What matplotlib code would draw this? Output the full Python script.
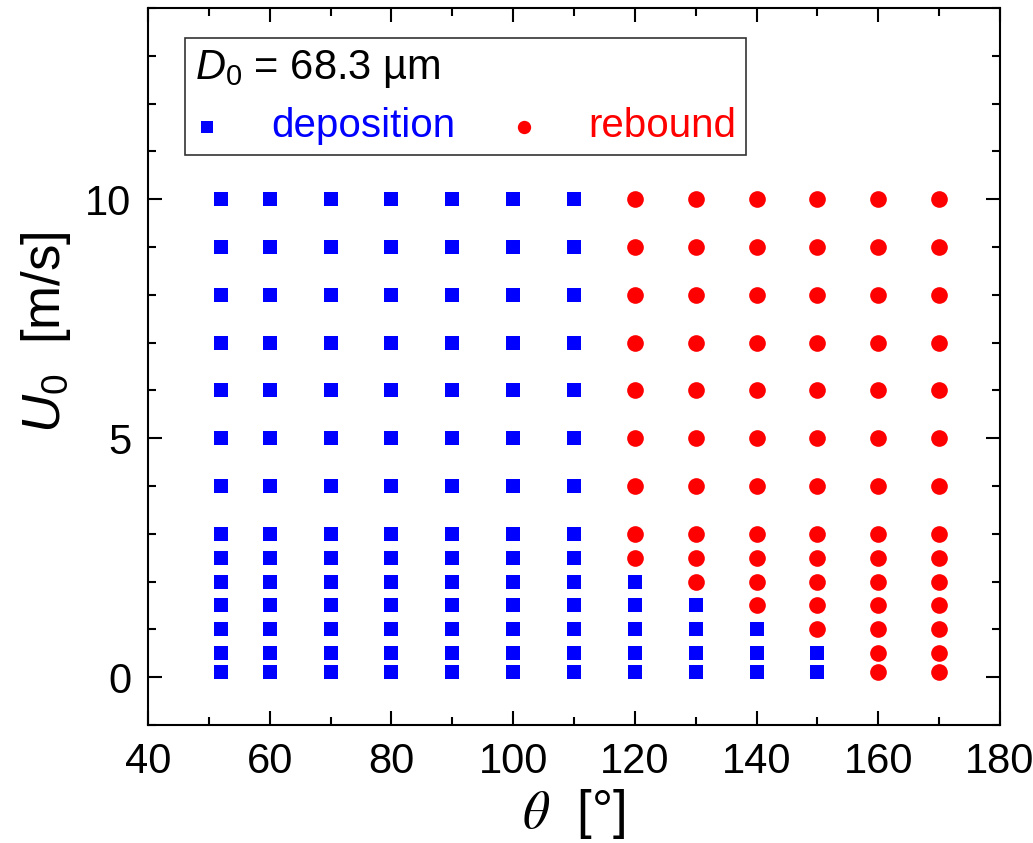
import matplotlib
matplotlib.use('Agg')
import matplotlib.pyplot as plt
from matplotlib.ticker import MultipleLocator
import numpy as np

plt.rcParams['font.family'] = ['Liberation Sans', 'DejaVu Sans']
plt.rcParams['mathtext.fontset'] = 'custom'
plt.rcParams['mathtext.rm'] = 'Liberation Sans'
plt.rcParams['mathtext.it'] = 'Liberation Sans:italic'

# 接触角和撞击速度网格
theta_cols = [52, 60, 70, 80, 90, 100, 110, 120, 130, 140, 150, 160, 170]
u0_rows = [0.1, 0.5, 1.0, 1.5, 2.0, 2.5, 3.0, 4.0, 5.0, 6.0, 7.0, 8.0, 9.0, 10.0]
# 每一列中发生反弹的最小速度 (None 表示全部沉积)
rebound_from = [None, None, None, None, None, None, None, 2.5, 2.0, 1.5, 1.0, 0.1, 0.1]

dep_x, dep_y, reb_x, reb_y = [], [], [], []
for th, u_min in zip(theta_cols, rebound_from):
    for u in u0_rows:
        if u_min is not None and u >= u_min:
            reb_x.append(th)
            reb_y.append(u)
        else:
            dep_x.append(th)
            dep_y.append(u)

fig = plt.figure(figsize=(10.33, 8.43), dpi=100)
ax = fig.add_axes([0.1433, 0.140, 0.8247, 0.8505])

sq = ax.scatter(dep_x, dep_y, marker='s', s=10.5**2, color='#0000ff',
                linewidths=0, label='deposition', zorder=3)
ci = ax.scatter(reb_x, reb_y, marker='o', s=12**2, color='#ff0000',
                linewidths=0, label='rebound', zorder=3)

ax.set_xlim(40, 180)
ax.set_ylim(-1, 14)
ax.xaxis.set_major_locator(MultipleLocator(20))
ax.xaxis.set_minor_locator(MultipleLocator(10))
ax.yaxis.set_major_locator(MultipleLocator(5))
ax.yaxis.set_minor_locator(MultipleLocator(1))
ax.tick_params(which='both', direction='in', top=True, right=True,
               width=1.5, labelsize=30, pad=12)
ax.tick_params(which='major', length=10)
ax.tick_params(which='minor', length=6)
for sp in ax.spines.values():
    sp.set_linewidth(1.5)

# θ 用衬线斜体
ax.set_xlabel(r'$\theta$  [°]', fontsize=38, labelpad=4, math_fontfamily='stix')
ax.set_ylabel(r'$U_0$  [m/s]', fontsize=38)
ax.yaxis.set_label_coords(-0.088, 0.548)

leg = ax.legend(handles=[sq, ci], ncol=2, title=r'$D_0$ = 68.3 µm',
                title_fontsize=30, fontsize=29, alignment='left',
                loc='upper left', bbox_to_anchor=(0.043, 0.958),
                frameon=True, fancybox=False, edgecolor='black',
                handletextpad=1.3, columnspacing=1.4, borderpad=0.25,
                labelspacing=0.42, handlelength=0.6, markerscale=0.8,
                borderaxespad=0)
leg.get_frame().set_linewidth(1.2)
for txt, c in zip(leg.get_texts(), ['#0000ff', '#ff0000']):
    txt.set_color(c)

fig.savefig('out.png', dpi=100)
